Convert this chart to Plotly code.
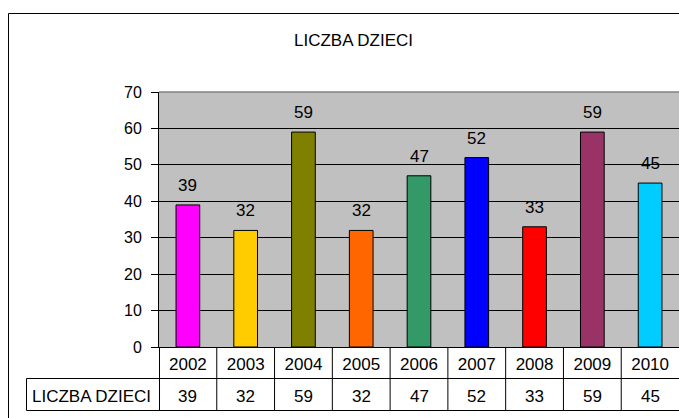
import plotly.graph_objects as go

years = ["2002", "2003", "2004", "2005", "2006", "2007", "2008", "2009", "2010"]
children = [39, 32, 59, 32, 47, 52, 33, 59, 45]
bar_colors = ["#FF00FF", "#FFCC00", "#808000", "#FF6600", "#339966",
              "#0000FF", "#FF0000", "#993366", "#00CCFF"]
title_text = "LICZBA DZIECI"
series_name = "LICZBA DZIECI"
y_ticks = [0, 10, 20, 30, 40, 50, 60, 70]

W, H = 679, 418
L, T, B = 159, 92, 71
PW = W - L
PH = H - T - B
FONT = "Liberation Sans, Arial, sans-serif"


def px_x(p):
    return (p - L) / PW


def px_y(p):
    return (H - B - p) / PH


fig = go.Figure()
fig.add_trace(go.Bar(
    x=list(range(len(years))), y=children,
    marker=dict(color=bar_colors, line=dict(color="black", width=1)),
    width=0.41, hoverinfo="skip", showlegend=False,
))

annotations = []
# data labels above bars
for i, v in enumerate(children):
    annotations.append(dict(x=i, y=v, text=str(v), showarrow=False,
                            xref="x", yref="y", yanchor="bottom", yshift=8,
                            font=dict(family=FONT, size=17, color="black")))
# table values row
row_y = px_y(396)
for i, v in enumerate(children):
    annotations.append(dict(x=i, y=row_y, text=str(v), showarrow=False,
                            xref="x", yref="paper", yanchor="middle",
                            font=dict(family=FONT, size=17, color="black")))
annotations.append(dict(x=px_x(30), y=row_y, text=series_name, showarrow=False,
                        xref="paper", yref="paper", xanchor="left", yanchor="middle",
                        font=dict(family=FONT, size=17, color="black")))
# title
annotations.append(dict(x=px_x(353), y=px_y(40), text=title_text, showarrow=False,
                        xref="paper", yref="paper", xanchor="center", yanchor="middle",
                        font=dict(family=FONT, size=17, color="black")))

shapes = []
line = dict(color="black", width=1)
# outer chart border
shapes.append(dict(type="rect", xref="paper", yref="paper",
                   x0=px_x(8.5), x1=px_x(700), y0=px_y(13.5), y1=px_y(430),
                   line=dict(color="black", width=1), fillcolor="rgba(0,0,0,0)"))
# top border of plot area (gray)
shapes.append(dict(type="line", xref="paper", yref="paper", x0=0, x1=1,
                   y0=1, y1=1, line=dict(color="#808080", width=1.5)))
# table lines
y_mid = px_y(378.5)
y_bot = px_y(410.5)
shapes.append(dict(type="line", xref="paper", yref="paper", x0=px_x(26.5), x1=1.02,
                   y0=y_mid, y1=y_mid, line=line))
shapes.append(dict(type="line", xref="paper", yref="paper", x0=px_x(26.5), x1=1.02,
                   y0=y_bot, y1=y_bot, line=line))
shapes.append(dict(type="line", xref="paper", yref="paper", x0=px_x(26.5), x1=px_x(26.5),
                   y0=y_mid, y1=y_bot, line=line))
shapes.append(dict(type="line", xref="paper", yref="paper", x0=px_x(159.5), x1=px_x(159.5),
                   y0=0, y1=y_bot, line=line))
for i in range(len(years) - 1):
    shapes.append(dict(type="line", xref="x", yref="paper", x0=i + 0.5, x1=i + 0.5,
                       y0=0, y1=y_bot, line=line))

fig.update_layout(
    width=W, height=H,
    margin=dict(l=L, r=0, t=T, b=B),
    paper_bgcolor="white", plot_bgcolor="#C0C0C0",
    showlegend=False, bargap=0.59,
    font=dict(family=FONT, size=16, color="black"),
    annotations=annotations, shapes=shapes,
    xaxis=dict(range=[-0.5, 8.5], tickmode="array",
               tickvals=list(range(len(years))), ticktext=years,
               showgrid=False, zeroline=False, showline=True,
               linecolor="black", linewidth=1, ticks="",
               ticklabelstandoff=2,
               tickfont=dict(family=FONT, size=17, color="black"),
               fixedrange=True),
    yaxis=dict(range=[0, 70], tickmode="array", tickvals=y_ticks,
               showgrid=True, gridcolor="black", gridwidth=1,
               zeroline=False, showline=True, linecolor="black", linewidth=1,
               ticks="outside", ticklen=7, tickcolor="black",
               ticklabelstandoff=6,
               tickfont=dict(family=FONT, size=16, color="black"),
               fixedrange=True),
)

fig.write_html("out.html", config={"displayModeBar": False},
               post_script="document.body.style.margin='0';document.body.style.overflow='hidden';")
